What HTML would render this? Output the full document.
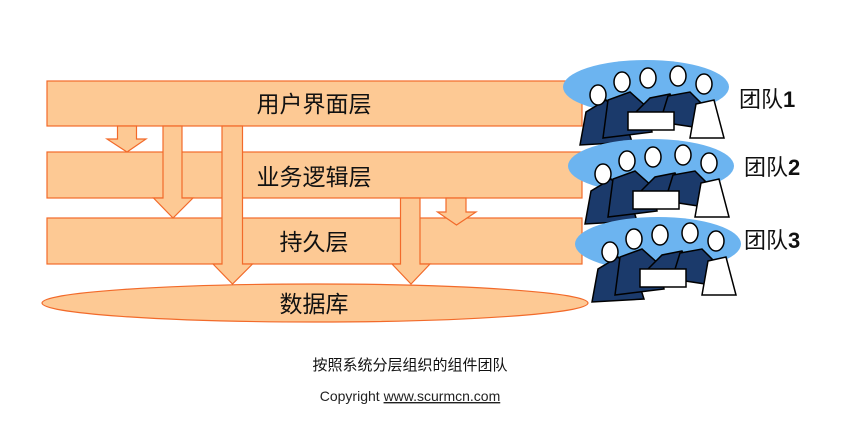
<!DOCTYPE html>
<html><head><meta charset="utf-8"><style>
html,body{margin:0;padding:0;background:#fff;}
svg{display:block;}
text{font-family:"Liberation Sans","Noto Sans CJK SC",sans-serif;}
</style></head><body>
<svg width="847" height="428" viewBox="0 0 847 428" xmlns="http://www.w3.org/2000/svg">
<g fill="#FDC994" stroke="#F26A2A" stroke-width="1.2">
<rect x="47" y="81" width="535" height="45"/>
<rect x="47" y="152" width="535" height="46"/>
<rect x="47" y="218" width="535" height="46"/>
<ellipse cx="315" cy="303" rx="273" ry="19"/>
<polygon points="117.5,126 136.5,126 136.5,139 146,139 127,152 107,139 117.5,139"/>
<polygon points="163,126 182,126 182,198 193,198 173,218 153.5,198 163,198"/>
<polygon points="222,126 242.5,126 242.5,264 252.5,264 232.5,284 213,264 222,264"/>
<polygon points="400.5,198 420,198 420,264 430,264 411,284 392,264 400.5,264"/>
<polygon points="446,198 466,198 466,212 476,212 456.5,225 437.5,212 446,212"/>
</g>
<g font-size="23" fill="#111" text-anchor="middle">
<text x="314" y="112">用户界面层</text>
<text x="314" y="185">业务逻辑层</text>
<text x="314" y="250">持久层</text>
<text x="314" y="312">数据库</text>
</g>
<text x="410" y="370" font-size="15" text-anchor="middle" fill="#111">按照系统分层组织的组件团队</text>
<text x="410" y="401" font-size="14" text-anchor="middle" fill="#222">Copyright <tspan text-decoration="underline">www.scurmcn.com</tspan></text>
<g id="t1">
<ellipse cx="646" cy="87" rx="83" ry="27" fill="#6CB4F0"/>
<g fill="#1B3A6B" stroke="#000" stroke-width="1.5">
<path d="M580,145 L586,112 L606,100 L625,120 L632,142 Z"/>
<path d="M603,138 L608,100 L630,92 L648,108 L652,132 Z"/>
<path d="M636,112 L650,98 L670,94 L676,108 L668,126 Z"/>
<path d="M660,122 L668,96 L690,92 L706,108 L700,128 Z"/>
</g>
<path d="M690,138 L696,104 L714,100 L724,138 Z" fill="#fff" stroke="#000" stroke-width="1.5"/>
<rect x="628" y="112" width="46" height="18" fill="#fff" stroke="#000" stroke-width="1.5"/>
<g fill="#fff" stroke="#000" stroke-width="1.5">
<ellipse cx="598" cy="95" rx="8" ry="10"/><ellipse cx="622" cy="82" rx="8" ry="10"/><ellipse cx="648" cy="78" rx="8" ry="10"/><ellipse cx="678" cy="76" rx="8" ry="10"/><ellipse cx="704" cy="84" rx="8" ry="10"/>
</g>
</g>
<use href="#t1" x="5" y="79"/>
<use href="#t1" x="12" y="157"/>
<g font-size="22" fill="#111">
<text x="739" y="107">团队<tspan font-weight="bold">1</tspan></text>
<text x="744" y="175">团队<tspan font-weight="bold">2</tspan></text>
<text x="744" y="248">团队<tspan font-weight="bold">3</tspan></text>
</g>
</svg>
</body></html>
